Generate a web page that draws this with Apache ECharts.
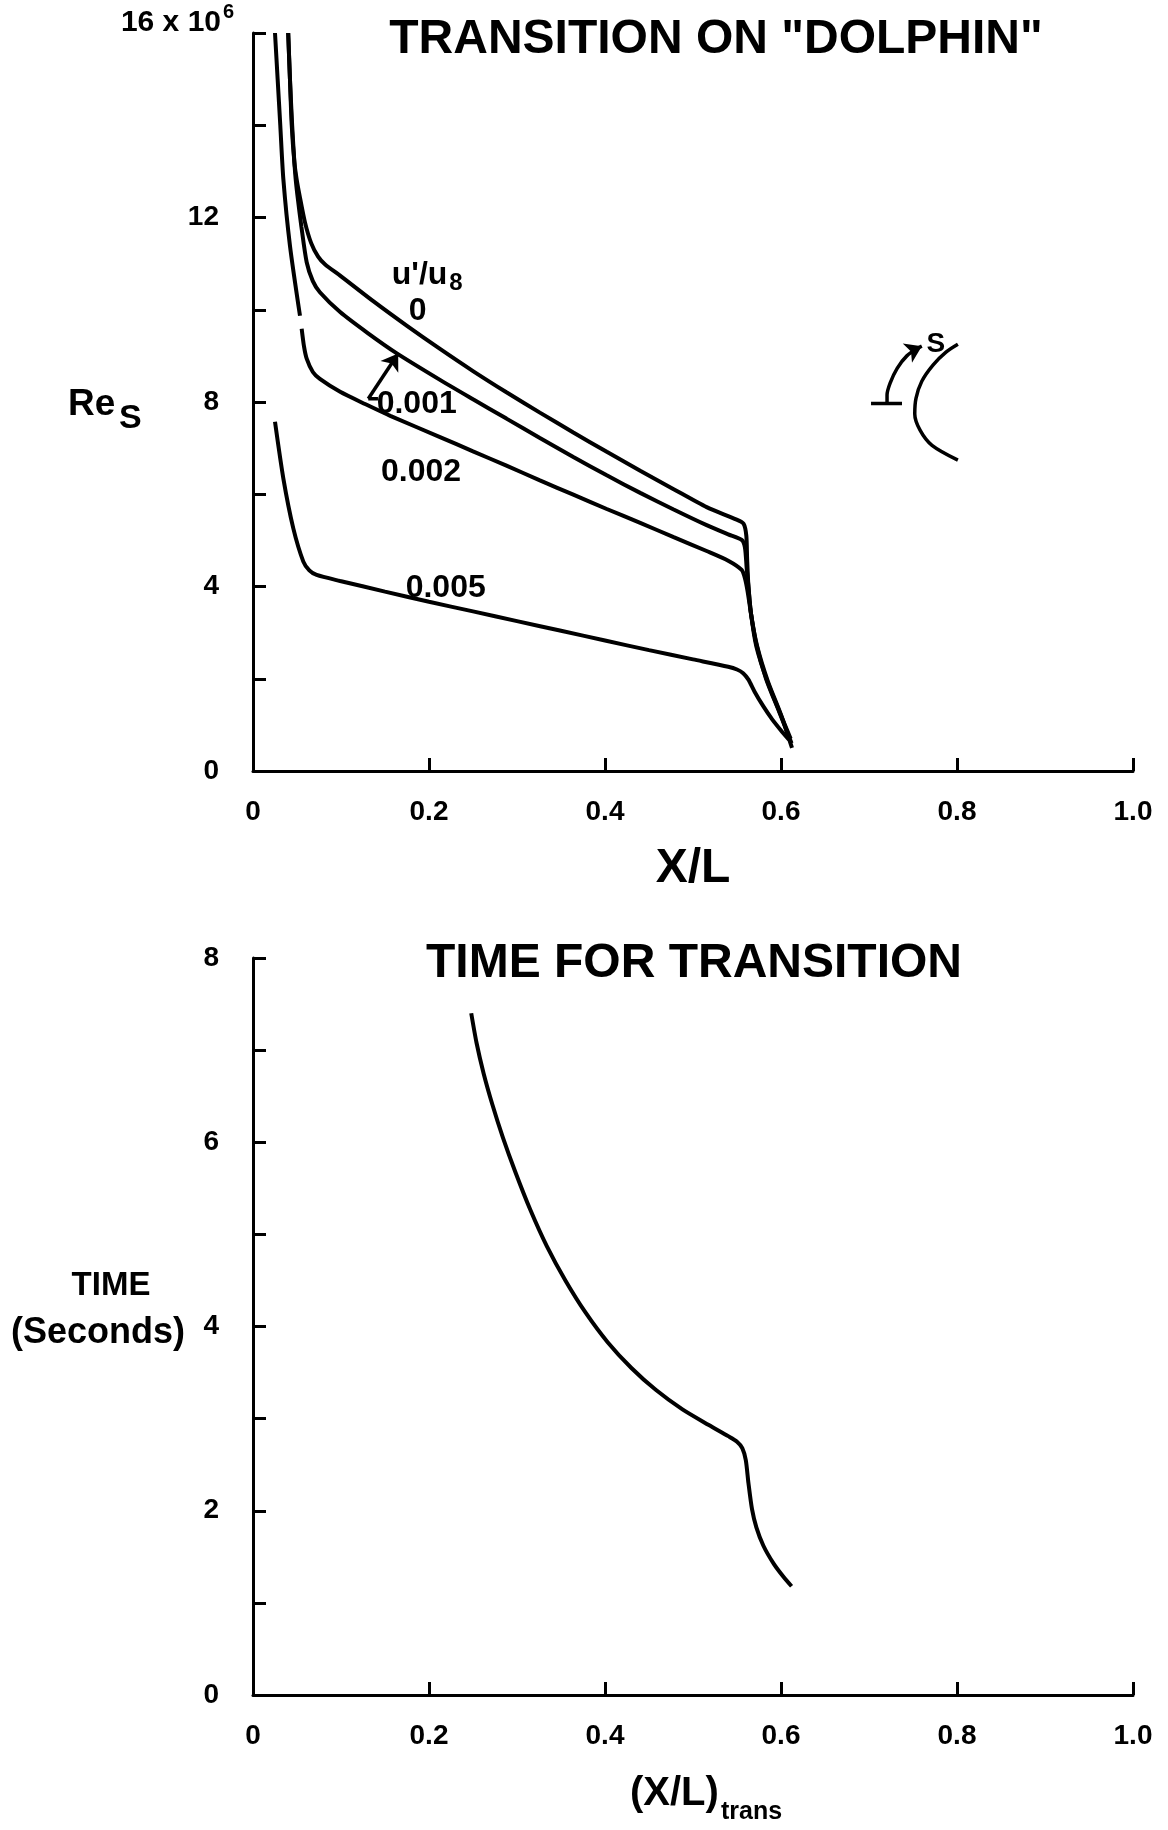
<!DOCTYPE html>
<html>
<head>
<meta charset="utf-8">
<script src="https://cdn.jsdelivr.net/npm/echarts@6/dist/echarts.min.js"></script>
<style>
html,body{margin:0;padding:0;background:#fff;}
#chart{width:1168px;height:1830px;}
</style>
</head>
<body>
<div id="chart"></div>
<script>
// ---------- DATA ----------
// Top panel: Re_S vs X/L for several turbulence levels u'/u8
const curveU0 = [
  [0.040,16.0],[0.042,15.0],[0.044,14.0],[0.047,13.2],[0.0496,12.83],[0.053,12.47],
  [0.059,11.9],[0.066,11.45],[0.074,11.15],[0.082,10.98],[0.099,10.74],[0.137,10.18],
  [0.175,9.65],[0.2125,9.15],[0.25,8.67],[0.288,8.21],[0.326,7.77],[0.364,7.34],
  [0.402,6.92],[0.44,6.51],[0.478,6.11],[0.5155,5.72],[0.5496,5.45],
  [0.5575,5.36],[0.5606,5.1],[0.5615,4.6],[0.563,4.0],[0.566,3.4],
  [0.572,2.7],[0.584,1.97],[0.599,1.25],[0.611,0.7]
];
const curveU001 = [
  [0.040,16.0],[0.042,15.0],[0.0445,14.0],[0.047,13.2],[0.0485,12.83],[0.051,12.4],
  [0.055,11.8],[0.061,11.03],[0.068,10.62],[0.076,10.38],[0.099,9.95],[0.13,9.50],
  [0.163,9.06],[0.2125,8.48],[0.25,8.06],[0.288,7.64],[0.326,7.22],[0.364,6.81],
  [0.402,6.41],[0.44,6.03],[0.478,5.67],[0.5155,5.33],[0.54,5.13],[0.5553,5.01],
  [0.559,4.85],[0.561,4.4],[0.563,4.0],[0.566,3.4],[0.573,2.7],[0.585,1.95],
  [0.600,1.22],[0.6125,0.5]
];
const curveU002 = [
  [0.025,16.0],[0.028,15.0],[0.031,14.0],[0.0345,12.83],[0.042,11.39],[0.0534,9.87],
  [0.0544,'-'],
  [0.0553,9.59],[0.058,9.2],[0.061,8.94],[0.068,8.65],[0.076,8.50],[0.099,8.22],
  [0.128,7.95],[0.156,7.70],[0.2125,7.24],[0.25,6.93],[0.288,6.62],[0.326,6.30],
  [0.364,5.99],[0.402,5.68],[0.44,5.38],[0.478,5.07],[0.5155,4.77],[0.54,4.56],
  [0.5553,4.36],[0.559,4.18],[0.562,3.9],[0.566,3.4],[0.572,2.75],[0.583,2.0],
  [0.598,1.28],[0.612,0.6]
];
const curveU005 = [
  [0.025,7.57],[0.0345,6.34],[0.0458,5.26],[0.0572,4.54],[0.064,4.35],[0.0723,4.25],
  [0.099,4.12],[0.15,3.89],[0.2,3.67],[0.25,3.46],[0.3,3.25],[0.35,3.04],[0.4,2.83],
  [0.45,2.62],[0.5,2.42],[0.54,2.26],[0.55,2.20],
  [0.557,2.12],[0.563,1.98],[0.570,1.72],[0.580,1.40],[0.590,1.12],[0.600,0.88],
  [0.609,0.68]
];
// Bottom panel: time for transition vs (X/L)trans
const timeForTransition = [
  [0.248,7.40],[0.254,7.08],[0.262,6.75],[0.272,6.41],[0.284,6.05],[0.298,5.68],
  [0.315,5.27],[0.334,4.87],[0.355,4.50],[0.378,4.15],[0.403,3.83],[0.43,3.55],
  [0.458,3.31],[0.488,3.10],[0.518,2.93],[0.540,2.81],[0.550,2.75],[0.556,2.68],
  [0.560,2.55],[0.563,2.30],[0.567,2.02],[0.572,1.82],[0.580,1.62],[0.592,1.42],
  [0.603,1.28],[0.612,1.18]
];
// Curve labels (text, anchor in data units of the top panel)
const curveLabelTexts = ["u'/u8", "0", "0.001", "0.002", "0.005", "S"];
const curveLabelPos = [[0.198,10.74],[0.187,9.97],[0.186,7.95],[0.191,6.48],[0.219,3.97],[0.776,9.25]];
// Pointer from "0.001" to its curve
const pointerFoot = [[0.131,8.07],[0.142,8.07]];
const pointerArrow = [[0.131,8.07],[0.165,9.05]];
// Inset sketch of the body and arc-length coordinate s
const insetBase = [[0.7023,7.97],[0.7375,7.97]];
const insetArc = [[0.7205,7.97],[0.7205,8.15],[0.724,8.41],[0.732,8.73],[0.743,9.0],[0.7557,9.17]];
const insetArcHead = [[0.748,9.10],[0.760,9.21]];
const insetBody = [[0.801,9.25],[0.7875,9.08],[0.7727,8.80],[0.760,8.45],[0.7534,8.08],
  [0.752,7.74],[0.758,7.39],[0.7716,7.06],[0.801,6.74]];
// Axis tick ranges
const xTicks = {min:0, max:1, interval:0.2};
const resTicks = {min:0, max:16, interval:2, labelEvery:4};
const timeTicks = {min:0, max:8, interval:1, labelEvery:2};

// ---------- CHART ----------
const FONT = 'Liberation Sans';
const BLACK = '#000';
const chart = echarts.init(document.getElementById('chart'), null, {renderer:'canvas'});

function xAxisCfg(i){
  return {
    gridIndex:i, type:'value', min:xTicks.min, max:xTicks.max, interval:xTicks.interval,
    axisLine:{show:true, onZero:false, lineStyle:{color:BLACK, width:3}},
    axisTick:{show:true, inside:true, length:13, lineStyle:{color:BLACK, width:3}},
    splitLine:{show:false},
    axisLabel:{color:BLACK, fontFamily:FONT, fontWeight:'bold', fontSize:28, margin:27,
      formatter:v => v === 0 ? '0' : v.toFixed(1)}
  };
}
function yAxisCfg(i, t, hideTop){
  return {
    gridIndex:i, type:'value', min:t.min, max:t.max, interval:t.interval,
    axisLine:{show:true, onZero:false, lineStyle:{color:BLACK, width:3}},
    axisTick:{show:true, inside:true, length:13, lineStyle:{color:BLACK, width:3}},
    splitLine:{show:false},
    axisLabel:{color:BLACK, fontFamily:FONT, fontWeight:'bold', fontSize:28, margin:34,
      formatter:v => (Math.abs(v % t.labelEvery) < 1e-9 && !(hideTop && v === t.max)) ? String(v) : ''}
  };
}
function curve(data, xi, yi){
  return {
    type:'line', xAxisIndex:xi, yAxisIndex:yi, data:data, showSymbol:false, symbol:'none',
    smooth:0.25, connectNulls:false, silent:true,
    lineStyle:{color:BLACK, width:4}
  };
}
function thin(data){
  return {
    type:'line', xAxisIndex:0, yAxisIndex:0, data:data, showSymbol:false, symbol:'none',
    smooth:0.3, silent:true, lineStyle:{color:BLACK, width:3.5}
  };
}
function arrowSeries(seg){
  return {
    type:'line', xAxisIndex:0, yAxisIndex:0, data:[], silent:true,
    markLine:{
      silent:true, symbol:['none','arrow'], symbolSize:16, animation:false,
      label:{show:false},
      emphasis:{disabled:true},
      lineStyle:{color:BLACK, width:3.5, type:'solid'},
      itemStyle:{color:BLACK},
      data:[[{coord:seg[0]},{coord:seg[1]}]]
    }
  };
}

const labelRich = {
  m:{fontFamily:FONT, fontWeight:'bold', fontSize:32, color:BLACK, opacity:1},
  s:{fontFamily:FONT, fontWeight:'bold', fontSize:24, color:BLACK, opacity:1, padding:[16,0,0,2]},
  k:{fontFamily:FONT, fontWeight:'bold', fontSize:28, color:BLACK, opacity:1}
};
function fmtLabel(t){
  if (t === "u'/u8") return "{m|u'/u}{s|8}";
  if (t === 'S') return '{k|S}';
  return '{m|' + t + '}';
}
function gtext(x, y, text, size, align){
  return {type:'text', x:x, y:y, style:{text:text, align:align || 'center', verticalAlign:'middle',
    fontFamily:FONT, fontWeight:'bold', fontSize:size, fill:BLACK}};
}

const option = {
  animation:false,
  backgroundColor:'#fff',
  grid:[
    {left:253, top:33, width:880, height:738},
    {left:253, top:958, width:880, height:737}
  ],
  xAxis:[xAxisCfg(0), xAxisCfg(1)],
  yAxis:[yAxisCfg(0, resTicks, true), yAxisCfg(1, timeTicks, false)],
  series:[
    curve(curveU0,0,0),
    curve(curveU001,0,0),
    curve(curveU002,0,0),
    curve(curveU005,0,0),
    curve(timeForTransition,1,1),
    thin(pointerFoot),
    arrowSeries(pointerArrow),
    thin(insetBase),
    thin(insetArc),
    arrowSeries(insetArcHead),
    thin(insetBody),
    {
      type:'scatter', xAxisIndex:0, yAxisIndex:0, symbolSize:0, silent:true, z:5,
      itemStyle:{opacity:1, color:BLACK},
      data:curveLabelTexts.map((t,i) => ({name:t, value:curveLabelPos[i]})),
      label:{show:true, position:'inside', color:BLACK, opacity:1, textBorderWidth:0,
        formatter:p => fmtLabel(p.name), rich:labelRich}
    }
  ],
  graphic:[
    gtext(716, 40, 'TRANSITION ON "DOLPHIN"', 48),
    gtext(694, 964, 'TIME FOR TRANSITION', 48),
    gtext(221, 23, '16 x 10', 30, 'right'),
    gtext(223, 12, '6', 20, 'left'),
    gtext(68, 405, 'Re', 37, 'left'),
    gtext(119, 419, 'S', 34, 'left'),
    gtext(693, 869, 'X/L', 48),
    gtext(111, 1286, 'TIME', 33),
    gtext(98, 1333, '(Seconds)', 36),
    gtext(630, 1794, '(X/L)', 40, 'left'),
    gtext(721, 1812, 'trans', 25, 'left')
  ]
};
chart.setOption(option);
</script>
</body>
</html>
